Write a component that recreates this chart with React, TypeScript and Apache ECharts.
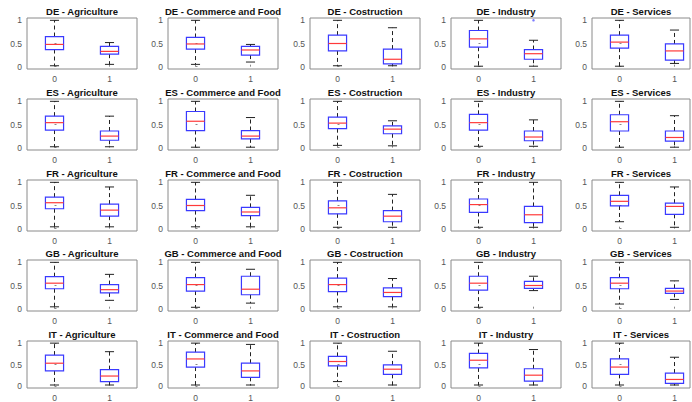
import React, { useEffect, useRef } from 'react';
import * as echarts from 'echarts';

const countries = ['DE', 'ES', 'FR', 'GB', 'IT'];
const sectors = ['Agriculture', 'Commerce and Food', 'Costruction', 'Industry', 'Services'];
const groupPositions = [0, 1];
const xTickValues = [0, 1];
const yTickValues = [0, 0.5, 1];

// Five-number summaries per sector: [min, q1, median, q3, max] for group 0, then group 1
const deStats = [
  [[0.02, 0.37, 0.48, 0.65, 1.0], [0.05, 0.27, 0.33, 0.44, 0.52]],
  [[0.05, 0.38, 0.49, 0.63, 1.0], [0.1, 0.25, 0.36, 0.44, 0.48]],
  [[0.02, 0.34, 0.5, 0.68, 1.0], [0.02, 0.06, 0.16, 0.38, 0.84]],
  [[0.01, 0.42, 0.6, 0.78, 1.0], [0.01, 0.16, 0.28, 0.37, 0.57]],
  [[0.01, 0.4, 0.53, 0.68, 1.0], [0.07, 0.14, 0.34, 0.49, 0.79]],
];
const esStats = [
  [[0.02, 0.38, 0.54, 0.68, 1.0], [0.02, 0.16, 0.25, 0.36, 0.68]],
  [[0.01, 0.37, 0.57, 0.78, 1.0], [0.01, 0.19, 0.25, 0.37, 0.65]],
  [[0.05, 0.41, 0.53, 0.66, 1.0], [0.04, 0.3, 0.4, 0.47, 0.58]],
  [[0.03, 0.38, 0.54, 0.72, 1.0], [0.03, 0.15, 0.23, 0.36, 0.6]],
  [[0.01, 0.36, 0.56, 0.71, 1.0], [0.01, 0.14, 0.22, 0.36, 0.69]],
];
const frStats = [
  [[0.04, 0.43, 0.56, 0.68, 1.0], [0.04, 0.27, 0.4, 0.53, 0.9]],
  [[0.04, 0.39, 0.5, 0.63, 1.0], [0.04, 0.28, 0.36, 0.46, 0.72]],
  [[0.03, 0.32, 0.45, 0.6, 1.0], [0.03, 0.15, 0.27, 0.39, 0.74]],
  [[0.03, 0.35, 0.52, 0.64, 1.0], [0.03, 0.13, 0.3, 0.48, 1.0]],
  [[0.15, 0.49, 0.59, 0.72, 1.0], [0.03, 0.31, 0.48, 0.55, 0.9]],
];
const gbStats = [
  [[0.04, 0.43, 0.55, 0.69, 1.0], [0.18, 0.34, 0.41, 0.52, 0.74]],
  [[0.03, 0.38, 0.52, 0.67, 1.0], [0.12, 0.3, 0.42, 0.7, 0.85]],
  [[0.04, 0.37, 0.52, 0.66, 1.0], [0.04, 0.26, 0.35, 0.45, 0.65]],
  [[0.03, 0.4, 0.55, 0.7, 1.0], [0.39, 0.44, 0.5, 0.59, 0.7]],
  [[0.1, 0.43, 0.55, 0.67, 1.0], [0.2, 0.33, 0.38, 0.44, 0.6]],
];
const itStats = [
  [[0.02, 0.35, 0.53, 0.72, 1.0], [0.02, 0.1, 0.23, 0.38, 0.8]],
  [[0.02, 0.44, 0.63, 0.79, 1.0], [0.02, 0.2, 0.35, 0.53, 0.97]],
  [[0.1, 0.47, 0.57, 0.69, 1.0], [0.02, 0.27, 0.39, 0.49, 0.81]],
  [[0.02, 0.42, 0.6, 0.76, 1.0], [0.02, 0.11, 0.25, 0.4, 0.85]],
  [[0.02, 0.27, 0.44, 0.63, 1.0], [0.02, 0.06, 0.15, 0.3, 0.67]],
];
const statsByCountry = [deStats, esStats, frStats, gbStats, itStats];

// Outliers: [country index, sector index, group, value]
const outliers = [[0, 3, 1, 1.0]];

const FONT = '"Liberation Sans", Arial, Helvetica, sans-serif';
const colLefts = [27, 168, 310, 451, 592];
const colWidths = [110, 110, 110, 110, 98];
const rowTop0 = 18;
const rowStep = 80.8;
const panelHeight = 51;

function renderBox(params: any, api: any) {
  const x = api.value(0);
  const mn = api.coord([x, api.value(1)]);
  const q1 = api.coord([x, api.value(2)]);
  const md = api.coord([x, api.value(3)]);
  const q3 = api.coord([x, api.value(4)]);
  const mx = api.coord([x, api.value(5)]);
  const w = api.size([1, 0])[0] * 0.33;
  const cx = mn[0];
  const whisker = { stroke: '#222', lineWidth: 1, lineDash: [4, 3] };
  const cap = { stroke: '#222', lineWidth: 1 };
  return {
    type: 'group',
    children: [
      { type: 'line', shape: { x1: cx, y1: q3[1], x2: cx, y2: mx[1] }, style: whisker },
      { type: 'line', shape: { x1: cx, y1: q1[1], x2: cx, y2: mn[1] }, style: whisker },
      { type: 'line', shape: { x1: cx - w / 4, y1: mx[1], x2: cx + w / 4, y2: mx[1] }, style: cap },
      { type: 'line', shape: { x1: cx - w / 4, y1: mn[1], x2: cx + w / 4, y2: mn[1] }, style: cap },
      {
        type: 'rect',
        shape: { x: cx - w / 2, y: q3[1], width: w, height: q1[1] - q3[1] },
        style: { fill: 'none', stroke: '#3a3aff', lineWidth: 1.2 },
      },
      {
        type: 'line',
        shape: { x1: cx - w / 2, y1: md[1], x2: cx + w / 2, y2: md[1] },
        style: { stroke: '#ff3a3a', lineWidth: 1.2 },
      },
    ],
  };
}

function buildOption() {
  const grid: any[] = [];
  const xAxis: any[] = [];
  const yAxis: any[] = [];
  const series: any[] = [];
  const title: any[] = [];

  countries.forEach((country, r) => {
    sectors.forEach((sector, c) => {
      const i = r * 5 + c;
      const left = colLefts[c];
      const width = colWidths[c];
      const top = Math.round(rowTop0 + rowStep * r);
      grid.push({
        left, top, width, height: panelHeight,
        show: true, borderColor: '#8a8a8a', borderWidth: 1, backgroundColor: '#fff',
      });
      // last column is narrower; keep the 55 px spacing between positions
      const xMax = -0.5 + width / 55;
      xAxis.push({
        gridIndex: i, type: 'value', min: -0.5, max: xMax,
        axisLine: { show: false },
        splitLine: { show: false },
        axisTick: { show: true, inside: true, length: 2, customValues: xTickValues, lineStyle: { color: '#8a8a8a' } },
        axisLabel: {
          customValues: xTickValues, fontSize: 8.5, color: '#555', margin: 5, fontFamily: FONT,
          formatter: (v: number) => String(v),
        },
      });
      yAxis.push({
        gridIndex: i, type: 'value', min: -0.05, max: 1.05,
        axisLine: { show: false },
        splitLine: { show: false },
        axisTick: { show: true, inside: true, length: 2, customValues: yTickValues, lineStyle: { color: '#8a8a8a' } },
        axisLabel: {
          customValues: yTickValues, fontSize: 8.5, color: '#555', margin: 5, fontFamily: FONT,
          formatter: (v: number) => String(v),
        },
      });
      const stats = statsByCountry[r][c];
      series.push({
        type: 'custom',
        xAxisIndex: i,
        yAxisIndex: i,
        renderItem: renderBox,
        data: groupPositions.map((g) => [g, ...stats[g]]),
        silent: true,
      });
      const pts = outliers
        .filter((o) => o[0] === r && o[1] === c)
        .map((o) => [o[2], o[3]]);
      if (pts.length) {
        series.push({
          type: 'scatter', xAxisIndex: i, yAxisIndex: i, data: pts,
          symbol: 'circle', symbolSize: 2.5, itemStyle: { color: '#5a5aff' }, silent: true,
        });
      }
      title.push({
        text: `${country} - ${sector}`,
        left: left + width / 2,
        top: top - 12,
        textAlign: 'center',
        padding: 0,
        textStyle: { fontSize: 9.5, fontWeight: 'bold', color: '#111', fontFamily: FONT, lineHeight: 10 },
      });
    });
  });

  return {
    animation: false,
    backgroundColor: '#fff',
    textStyle: { fontFamily: FONT },
    title,
    grid,
    xAxis,
    yAxis,
    series,
  };
}

export default function App() {
  const ref = useRef<HTMLDivElement>(null);
  useEffect(() => {
    if (!ref.current) return;
    const chart = echarts.init(ref.current, null, { renderer: 'svg' });
    chart.setOption(buildOption() as any);
    return () => chart.dispose();
  }, []);
  return (
    <div
      ref={ref}
      style={{ position: 'fixed', left: 0, top: 0, width: 692, height: 402, background: '#fff' }}
    />
  );
}
